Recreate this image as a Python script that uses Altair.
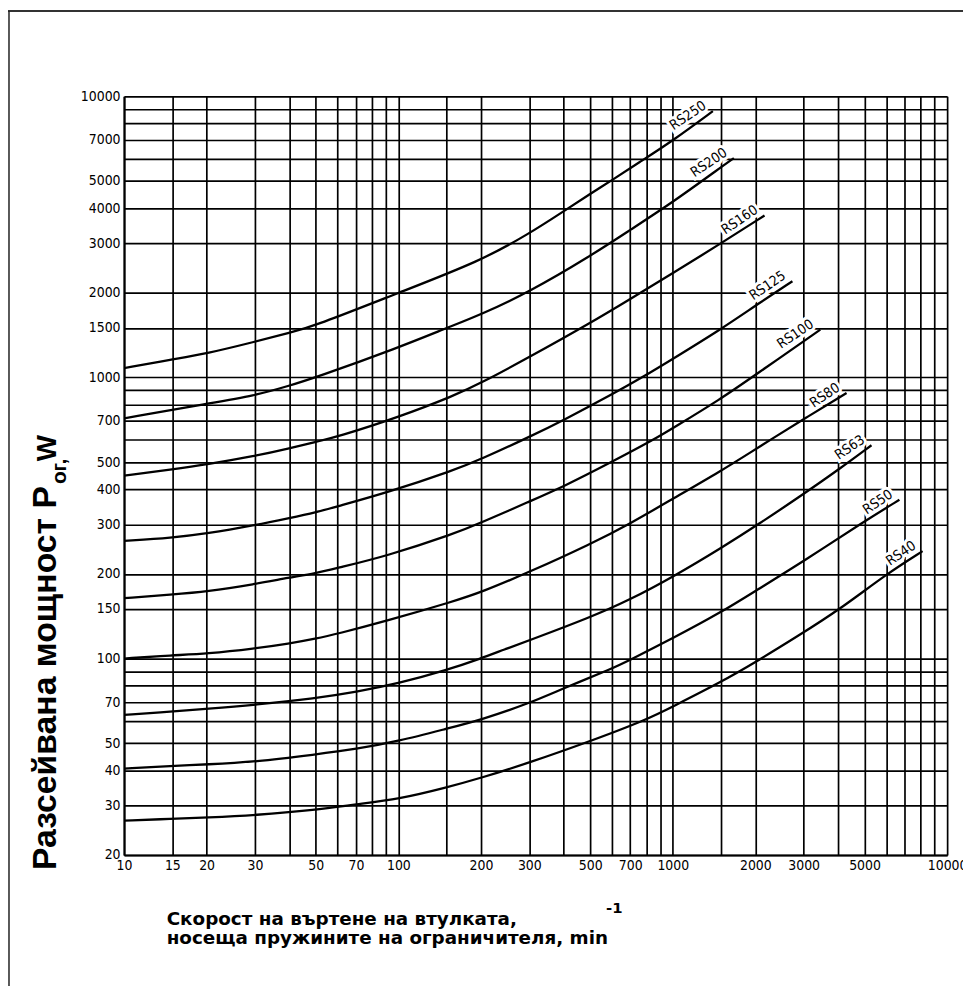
import altair as alt
import pandas as pd

# ---------------- data ----------------
curve_names = ["RS250", "RS200", "RS160", "RS125", "RS100", "RS80", "RS63", "RS50", "RS40"]

rs250_n = [10, 15, 20, 30, 40, 50, 100, 200, 300, 400, 500, 600, 750, 1000, 1400]
rs250_p = [1080, 1160, 1215, 1340, 1440, 1530, 2000, 2600, 3250, 3900, 4500, 5030, 5800, 6950, 8860]

rs200_n = [10, 20, 30, 40, 50, 100, 150, 200, 300, 500, 700, 1000, 1500, 1670]
rs200_p = [715, 806, 862, 934, 1000, 1276, 1500, 1674, 2015, 2700, 3350, 4200, 5600, 6030]

rs160_n = [10, 15, 20, 30, 40, 50, 60, 100, 160, 200, 300, 500, 700, 1000, 1500, 2160]
rs160_p = [447, 471, 490, 525, 559, 590, 615, 722, 862, 955, 1180, 1560, 1900, 2350, 3000, 3770]

rs125_n = [10, 15, 20, 30, 40, 50, 60, 90, 160, 200, 300, 400, 600, 780, 1000, 1500, 2000, 2730]
rs125_p = [262, 269, 278, 298, 316, 331, 348, 388, 468, 512, 614, 705, 870, 1005, 1164, 1485, 1800, 2200]

rs100_n = [10, 15, 20, 30, 40, 50, 60, 90, 160, 200, 300, 400, 600, 850, 1000, 1500, 1940, 3450]
rs100_p = [164, 169, 173, 184, 194, 201, 210, 231, 278, 304, 362, 409, 501, 600, 660, 840, 1000, 1480]

rs80_n = [10, 15, 20, 30, 40, 50, 60, 90, 160, 200, 300, 500, 700, 1000, 1500, 2000, 2220, 3100, 4300]
rs80_p = [100, 102.7, 104, 108.5, 113, 117.6, 122.5, 135.8, 160, 172, 203, 255, 302, 370, 465, 555, 592, 725, 880]

rs63_n = [10, 15, 20, 30, 50, 70, 100, 150, 200, 245, 300, 500, 700, 1000, 1500, 2050, 3000, 4080, 5300]
rs63_p = [63, 64.8, 66.2, 68.4, 72.2, 76, 81.5, 90.9, 100, 108, 116, 140, 162, 195, 247, 300, 385, 475, 574]

rs50_n = [10, 15, 20, 30, 50, 70, 100, 150, 200, 300, 400, 600, 700, 1000, 1500, 2000, 3000, 5000, 6700]
rs50_p = [40.6, 41.5, 42, 42.9, 45.6, 47.6, 50.8, 56.3, 60.5, 69.3, 78.4, 92, 99, 118, 146, 174, 222, 308, 367]

rs40_n = [10, 15, 20, 30, 50, 70, 100, 150, 200, 300, 500, 800, 1000, 1500, 2000, 2850, 4080, 6000, 8140]
rs40_p = [26.5, 26.9, 27.2, 27.7, 28.9, 30.3, 31.6, 34.8, 37.6, 42.6, 50.8, 60.5, 67.5, 82.5, 97, 120, 150, 199.6, 241]

x_grid = [10, 15, 20, 30, 40, 50, 60, 70, 80, 90, 100, 150, 200, 300, 400, 500, 600, 700, 800, 900,
          1000, 1500, 2000, 3000, 4000, 5000, 6000, 7000, 8000, 9000, 10000]
x_labels = [10, 15, 20, 30, 50, 70, 100, 200, 300, 500, 700, 1000, 2000, 3000, 5000, 10000]
y_grid = [20, 30, 40, 50, 60, 70, 80, 90, 100, 150, 200, 300, 400, 500, 600, 700, 800, 900,
          1000, 1500, 2000, 3000, 4000, 5000, 6000, 7000, 8000, 9000, 10000]
y_labels = [20, 30, 40, 50, 70, 100, 150, 200, 300, 400, 500, 700, 1000, 1500, 2000, 3000, 4000, 5000, 7000, 10000]

y_title_main = "Разсейвана мощност P"
y_title_sub = "ог,"
y_title_unit = "W"
x_title_1 = "Скорост на въртене на втулката,"
x_title_2 = "носеща пружините на ограничителя, min"
x_title_sup = "-1"

# ---------------- build tables ----------------
series = [
    (rs250_n, rs250_p), (rs200_n, rs200_p), (rs160_n, rs160_p), (rs125_n, rs125_p),
    (rs100_n, rs100_p), (rs80_n, rs80_p), (rs63_n, rs63_p), (rs50_n, rs50_p), (rs40_n, rs40_p),
]
rows = []
ends = []
for name, (ns, ps) in zip(curve_names, series):
    for i, (n, p) in enumerate(zip(ns, ps)):
        rows.append({"curve": name, "n": n, "p": p, "order": i})
    ends.append({"curve": name, "n": ns[-1], "p": ps[-1]})
df = pd.DataFrame(rows)
df_end = pd.DataFrame(ends)

TICK_FONT = "DejaVu Sans Condensed, Liberation Sans, sans-serif"

xs = alt.Scale(type="log", domain=[10, 10000], nice=False)
ys = alt.Scale(type="log", domain=[20, 10000], nice=False)

def label_expr(vals):
    return "indexof([" + ",".join(str(v) for v in vals) + "], datum.value) >= 0 ? format(datum.value, 'd') : ''"

axis_common = dict(grid=True, gridColor="#000", gridWidth=1.7, gridOpacity=1, ticks=False,
                   domain=True, domainColor="#000", domainWidth=2, labelFont=TICK_FONT,
                   labelFontSize=14, labelColor="#000", labelPadding=4, labelOverlap=False,
                   labelFlush=False, labelBound=False, title=None)
x_axis = alt.Axis(values=x_grid, labelExpr=label_expr(x_labels), **axis_common)
y_axis = alt.Axis(values=y_grid, labelExpr=label_expr(y_labels), **axis_common)

lines = alt.Chart(df).mark_line(color="#000", strokeWidth=2.3, interpolate="basis", clip=True).encode(
    x=alt.X("n:Q", scale=xs, axis=x_axis),
    y=alt.Y("p:Q", scale=ys, axis=y_axis),
    detail="curve:N",
    order="order:Q",
)

label_style = dict(align="right", baseline="bottom", angle=326, dx=-3, dy=-3,
                   font=TICK_FONT, fontSize=14)
halo = alt.Chart(df_end).mark_text(color="white", stroke="white", strokeWidth=6, **label_style).encode(
    x=alt.X("n:Q", scale=xs), y=alt.Y("p:Q", scale=ys), text="curve:N")
labels = alt.Chart(df_end).mark_text(color="#000", **label_style).encode(
    x=alt.X("n:Q", scale=xs), y=alt.Y("p:Q", scale=ys), text="curve:N")

def txt(s, x, y, **kw):
    return alt.Chart(pd.DataFrame({"t": [s]})).mark_text(color="#000", **kw).encode(
        x=alt.value(x), y=alt.value(y), text="t:N")

YFONT = "Liberation Sans, Arial, sans-serif"
XFONT = "DejaVu Sans, sans-serif"
y_t1 = txt(y_title_main, -69, 393, angle=270, align="right", baseline="alphabetic",
           font=YFONT, fontSize=34, fontWeight="bold")
y_t2 = txt(y_title_sub, -59, 391, angle=270, align="left", baseline="alphabetic",
           font=YFONT, fontSize=21, fontWeight="bold")
y_t3 = txt(y_title_unit, -69, 368, angle=270, align="left", baseline="alphabetic",
           font=YFONT, fontSize=28, fontWeight="bold")
x_t1 = txt(x_title_1, 43, 836, align="left", baseline="alphabetic", font=XFONT, fontSize=18.5, fontWeight="bold")
x_t2 = txt(x_title_2, 43, 855, align="left", baseline="alphabetic", font=XFONT, fontSize=18.5, fontWeight="bold")
x_t3 = txt(x_title_sup, 486, 823, align="left", baseline="alphabetic", font=XFONT, fontSize=15, fontWeight="bold")

border_top = alt.Chart(pd.DataFrame({"a": [0]})).mark_rule(color="#333", strokeWidth=2).encode(
    x=alt.value(-117), x2=alt.value(846), y=alt.value(-86))
border_left = alt.Chart(pd.DataFrame({"a": [0]})).mark_rule(color="#222", strokeWidth=1.5).encode(
    x=alt.value(-116), y=alt.value(-86), y2=alt.value(900))

chart = alt.layer(
    halo, lines, labels, y_t1, y_t2, y_t3, x_t1, x_t2, x_t3, border_top, border_left
).properties(
    width=830, height=765,
    autosize=alt.AutoSizeParams(type="none"),
    padding={"left": 117, "top": 85, "right": 16, "bottom": 128},
    background="white",
).configure_view(stroke=None)

chart.save("out.html", embed_options={"renderer": "svg", "actions": False})
